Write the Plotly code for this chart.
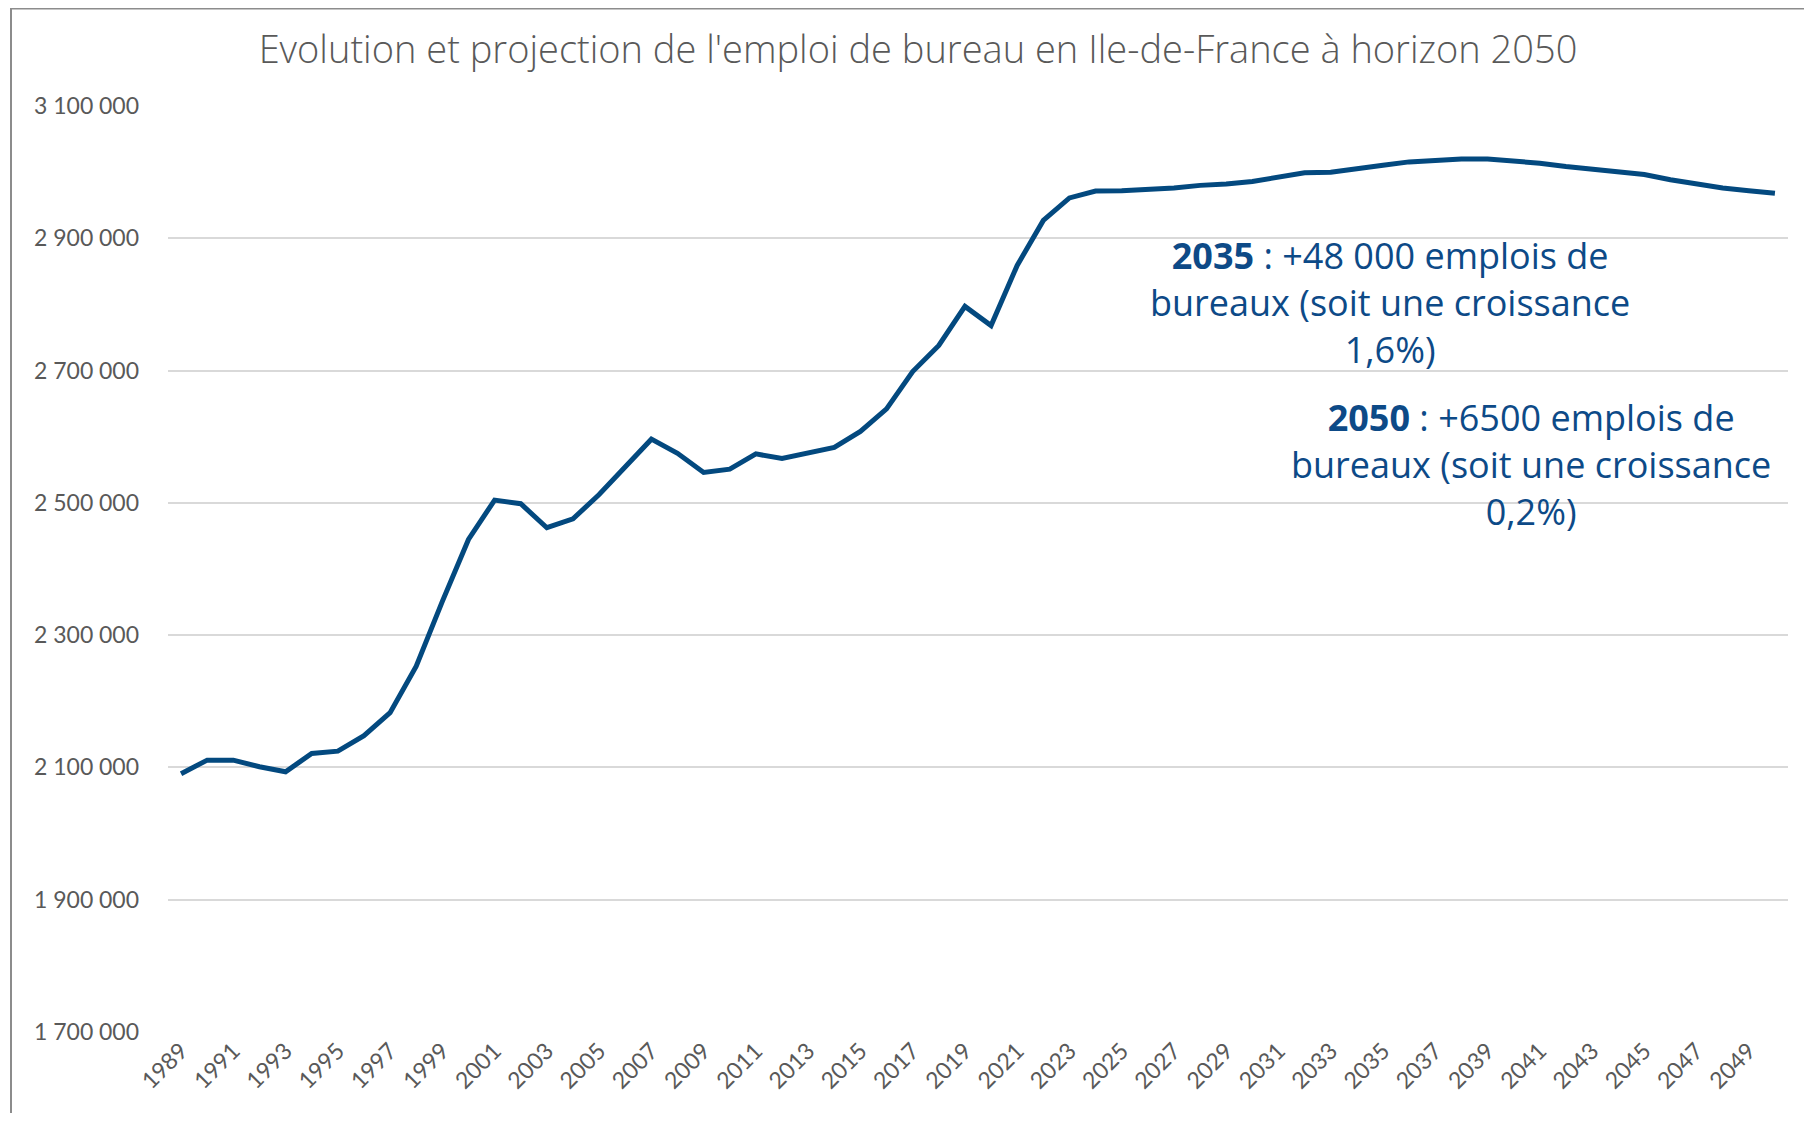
import plotly.graph_objects as go

years = list(range(1989, 2051))
emplois = [
    2090500, 2111000, 2111000, 2101000, 2093500, 2121000, 2124600, 2148000, 2182700, 2253000,
    2351000, 2444700, 2504200, 2498700, 2462400, 2475800, 2512600, 2555000, 2596300, 2575000,
    2546000, 2551000, 2574000, 2567000, 2575000, 2583700, 2608000, 2642000, 2698600, 2738000,
    2797000, 2768000, 2859000, 2927000, 2961000, 2971400, 2972000, 2973700, 2976000, 2980000,
    2982000, 2986000, 2993000, 2999000, 3000000, 3006000, 3010500, 3015500, 3018500, 3020000,
    3020000, 3017600, 3013500, 3008500, 3004500, 3001500, 2996500, 2988500, 2981500, 2976000,
    2972000, 2968000,
]
x_tick_years = list(range(1989, 2051, 2))
y_tick_vals = [1700000, 1900000, 2100000, 2300000, 2500000, 2700000, 2900000, 3100000]
y_tick_text = ["1\u202f700\u202f000", "1\u202f900\u202f000", "2\u202f100\u202f000", "2\u202f300\u202f000",
               "2\u202f500\u202f000", "2\u202f700\u202f000", "2\u202f900\u202f000", "3\u202f100\u202f000"]

title_text = "Evolution et projection de l'emploi de bureau en Ile-de-France à horizon 2050"
note_2035 = "<b>2035</b> : +48 000 emplois de<br>bureaux (soit une croissance<br>1,6%)"
note_2050 = "<b>2050</b> : +6500 emplois de<br>bureaux (soit une croissance<br>0,2%)"

OFF = 8  # default page body margin
W, H = 1812 - 2 * OFF, 1121 - 2 * OFF
L, R, T, B = 168 - OFF, W - (1788 - OFF), 106 - OFF, H - (1032 - OFF)
pw, ph = W - L - R, H - T - B

def px(xfull):
    return (xfull - OFF - L) / pw

def py(yfull):
    return (H - B - (yfull - OFF)) / ph

fig = go.Figure()
fig.add_trace(go.Scatter(
    x=[str(y) for y in years], y=emplois, mode="lines",
    line=dict(color="#03497F", width=5), hoverinfo="x+y",
))

fig.update_layout(
    width=W, height=H,
    margin=dict(l=L, r=R, t=T, b=B, autoexpand=False),
    paper_bgcolor="white", plot_bgcolor="white",
    showlegend=False,
    font=dict(family="Lato, 'Open Sans', sans-serif", color="#595959"),
    title=dict(text=title_text, x=(918 - OFF) / W, xanchor="center", xref="container",
               y=1 - (50 - OFF) / H, yanchor="middle", yref="container",
               font=dict(size=38, color="#595959", family="'Open Sans', sans-serif", weight=300)),
    xaxis=dict(type="category", range=[-0.5, len(years) - 0.5],
               tickmode="array", tickvals=[str(y) for y in x_tick_years],
               ticktext=[str(y) for y in x_tick_years],
               tickangle=-45, tickfont=dict(size=23, color="#595959"),
               showgrid=False, showline=False, ticks="", zeroline=False),
    yaxis=dict(range=[1700000, 3100000], tickmode="array", tickvals=y_tick_vals,
               ticktext=y_tick_text, tickfont=dict(size=23, color="#595959"),
               showgrid=True, gridcolor="#D9D9D9", gridwidth=1.5,
               showline=False, zeroline=False, ticks="", ticklabelstandoff=28),
)

fig.add_annotation(text=note_2035, xref="paper", yref="paper",
                   x=px(1390), y=py(302), xanchor="center", yanchor="middle",
                   showarrow=False, align="center",
                   font=dict(size=36, color="#0D4A87", family="'Open Sans', sans-serif"))
fig.add_annotation(text=note_2050, xref="paper", yref="paper",
                   x=px(1531), y=py(464), xanchor="center", yanchor="middle",
                   showarrow=False, align="center",
                   font=dict(size=36, color="#0D4A87", family="'Open Sans', sans-serif"))

# chart frame (left and top edges visible)
fig.add_shape(type="line", xref="paper", yref="paper", x0=px(11), x1=px(11), y0=py(1121 + 5), y1=py(OFF),
              line=dict(color="#8C8C8C", width=2))
fig.add_shape(type="line", xref="paper", yref="paper", x0=px(11), x1=px(1812 + 5), y0=py(OFF + 0.5), y1=py(OFF + 0.5),
              line=dict(color="#8C8C8C", width=2))

fig.write_html("out.html")
